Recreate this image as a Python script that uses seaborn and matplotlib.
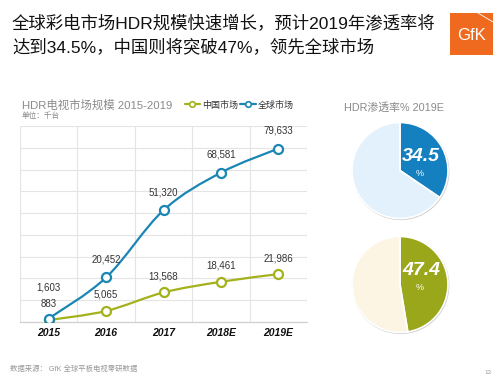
import numpy as np
import matplotlib
matplotlib.use("Agg")
import matplotlib.pyplot as plt
import seaborn as sns
from matplotlib.path import Path
from matplotlib.patches import PathPatch, Rectangle, Circle
from matplotlib.lines import Line2D

# ---- data ----
years = ["2015", "2016", "2017", "2018E", "2019E"]
china = [883, 5065, 13568, 18461, 21986]
global_market = [1603, 20452, 51320, 68581, 79633]
series_names = ["中国市场", "全球市场"]
pen_global = 34.5
pen_china = 47.4

title_l1 = "全球彩电市场HDR规模快速增长，预计2019年渗透率将"
title_l2 = "达到34.5%，中国则将突破47%，领先全球市场"
chart_title = "HDR电视市场规模 2015-2019"
unit_text = "单位：千台"
pie_title = "HDR渗透率% 2019E"
source_text = "数据来源： GfK 全球平板电视零研数据"
page_no = "13"

C_GLOBAL = "#1a86b3"
C_CHINA = "#a3b21c"
C_PIE_BLUE = "#1480c0"
C_PIE_BLUE_BG = "#e2f1fc"
C_PIE_GREEN = "#9aa71a"
C_PIE_GREEN_BG = "#fdf5e3"

sns.set_theme(style="white")
plt.rcParams["font.family"] = ["Liberation Sans", "Noto Sans CJK SC", "DejaVu Sans"]

W, H = 500, 382
fig = plt.figure(figsize=(W / 100, H / 100), dpi=100)
fig.patch.set_facecolor("white")

def fx(x):
    return x / W

def fy(y):
    return 1 - y / H

# ---- main line chart ----
ax = fig.add_axes([fx(20), fy(322), fx(307) - fx(20), fy(126) - fy(322)])
ax.set_facecolor("white")

def smooth_path(xs, ys):
    xs = np.asarray(xs, float)
    ys = np.asarray(ys, float)
    n = len(xs)
    verts = [(xs[0], ys[0])]
    codes = [Path.MOVETO]
    for i in range(n - 1):
        p0 = np.array([xs[max(i - 1, 0)], ys[max(i - 1, 0)]])
        p1 = np.array([xs[i], ys[i]])
        p2 = np.array([xs[i + 1], ys[i + 1]])
        p3 = np.array([xs[min(i + 2, n - 1)], ys[min(i + 2, n - 1)]])
        c1 = p1 + (p2 - p0) / 6.0
        c2 = p2 - (p3 - p1) / 6.0
        verts += [tuple(c1), tuple(c2), tuple(p2)]
        codes += [Path.CURVE4] * 3
    return Path(verts, codes)

pos = np.arange(len(years))
for vals, col in [(china, C_CHINA), (global_market, C_GLOBAL)]:
    ax.add_patch(PathPatch(smooth_path(pos, vals), facecolor="none",
                           edgecolor=col, lw=1.6, zorder=3))
    sns.lineplot(x=years, y=vals, ax=ax, lw=0, marker="o", markersize=6.5,
                 markerfacecolor="white", markeredgecolor=col,
                 markeredgewidth=1.6, zorder=4, legend=False)

ax.set_xlim(-0.5, len(years) - 0.5)
ax.set_ylim(0, 90000)
ax.set_yticks(np.arange(0, 90001, 10000))
ax.set_xticks(pos)
ax.set_xticks(np.arange(-0.5, len(years), 1.0), minor=True)
ax.set_xticklabels(years, fontsize=7.5, fontweight="bold", fontstyle="italic",
                   color="#111111")
ax.tick_params(axis="y", labelleft=False, length=0)
ax.tick_params(axis="x", which="both", length=0, pad=4)
ax.grid(False)
ax.grid(which="major", axis="y", color="#e4e4e4", lw=0.8)
ax.grid(which="minor", axis="x", color="#e4e4e4", lw=0.8)
for s in ["top", "left", "right"]:
    ax.spines[s].set_visible(False)
ax.spines["bottom"].set_color("#d0d0d0")
ax.spines["bottom"].set_linewidth(0.9)
ax.set_xlabel("")
ax.set_ylabel("")

def fmt(v):
    return f"{v:,}"

for i, v in enumerate(global_market):
    off = 19 if i == 0 else 9.5
    ax.annotate(fmt(v), (i, v), xytext=(0, off), textcoords="offset points",
                ha="center", va="bottom", fontsize=7, color="#333333")
for i, v in enumerate(china):
    ax.annotate(fmt(v), (i, v), xytext=(0, 8), textcoords="offset points",
                ha="center", va="bottom", fontsize=7, color="#333333")

# legend
handles = [Line2D([], [], color=c, lw=1.6, marker="o", markersize=4,
                  markerfacecolor="white", markeredgecolor=c, markeredgewidth=1.2)
           for c in (C_CHINA, C_GLOBAL)]
fig.legend(handles, series_names, loc="center left",
           bbox_to_anchor=(fx(180), fy(105)), ncol=2, frameon=False,
           fontsize=6.5, handlelength=1.7, handletextpad=0.2,
           columnspacing=0.3, labelcolor="#333333", borderpad=0)

# ---- texts ----
fig.text(fx(12), fy(24), title_l1, fontsize=12.5, color="#111111", va="center")
fig.text(fx(12), fy(47), title_l2, fontsize=12.5, color="#111111", va="center")
fig.text(fx(22), fy(105.5), chart_title, fontsize=8.2, color="#8a8a8a", va="center")
fig.text(fx(22), fy(116), unit_text, fontsize=5.5, color="#888888", va="center")
fig.text(fx(344), fy(107), pie_title, fontsize=7.8, color="#8a8a8a", va="center")
fig.text(fx(10), fy(369), source_text, fontsize=5.3, color="#999999", va="center")
fig.text(fx(488), fy(373), page_no, fontsize=4.5, color="#999999", va="center",
         ha="center")

# GfK logo
fig.patches.append(Rectangle((fx(450), fy(55)), fx(493) - fx(450), fy(13) - fy(55),
                             transform=fig.transFigure, facecolor="#ef6a1e",
                             edgecolor="none", zorder=1))
fig.add_artist(Line2D([fx(478), fx(493)], [fy(13), fy(22)], color="white",
                      lw=0.6, transform=fig.transFigure, zorder=2))
fig.text(fx(471.5), fy(35), "GfK", fontsize=12, color="white", ha="center",
         va="center", zorder=3)

# ---- pies ----
def draw_pie(cy, value, col, bg, label):
    cx, r = 400, 48
    pax = fig.add_axes([fx(cx - 50), fy(cy + 50), fx(100) - fx(0), fy(0) - fy(100)])
    pax.set_xlim(-50, 50)
    pax.set_ylim(-50, 50)
    pax.set_aspect("equal")
    pax.axis("off")
    pax.add_patch(Circle((0.6, -0.8), r + 0.8, facecolor="#cfcfcf",
                         edgecolor="none", zorder=0))
    pax.pie([value, 100 - value], colors=[col, bg], startangle=90,
            counterclock=False, radius=r,
            wedgeprops=dict(edgecolor="white", linewidth=1.2), frame=False)
    pax.set_xlim(-50, 50)
    pax.set_ylim(-50, 50)
    pax.text(21, 14, label, fontsize=14, fontweight="bold", fontstyle="italic",
             color="white", ha="center", va="center")
    pax.text(20, -3, "%", fontsize=6.5, color="white", ha="center", va="center")

draw_pie(170.5, pen_global, C_PIE_BLUE, C_PIE_BLUE_BG, f"{pen_global}")
draw_pie(284.5, pen_china, C_PIE_GREEN, C_PIE_GREEN_BG, f"{pen_china}")

fig.savefig("out.png", dpi=100, facecolor="white")
